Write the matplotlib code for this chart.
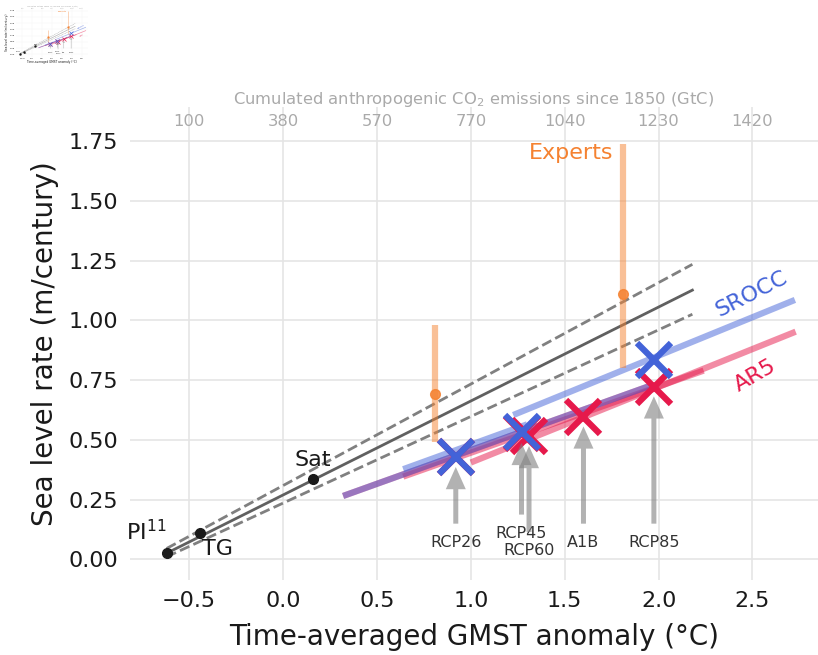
import matplotlib.pyplot as plt

W, H = 818, 655

# axis ticks; top axis shows cumulated emissions at the same positions
temp_ticks = [-0.5, 0.0, 0.5, 1.0, 1.5, 2.0, 2.5]
emission_labels = ["100", "380", "570", "770", "1040", "1230", "1420"]
rate_ticks = [0.0, 0.25, 0.5, 0.75, 1.0, 1.25, 1.5, 1.75]

# observations: pre-industrial, tide gauges, satellite
obs_names = ["PI$^{11}$", "TG", "Sat"]
obs_temp = [-0.62, -0.44, 0.16]
obs_rate = [0.025, 0.109, 0.335]

# linear fit through the observations (central + bounds)
fit_temp = [-0.62, 2.18]
fit_mid = [0.025, 1.127]
fit_high = [0.045, 1.235]
fit_low = [0.010, 1.026]

# expert elicitation
expert_temp = [0.81, 1.81]
expert_mid = [0.69, 1.11]
expert_low = [0.49, 0.80]
expert_high = [0.98, 1.74]

# scenarios (AR5)
scen_names = ["RCP26", "RCP45", "RCP60", "A1B", "RCP85"]
scen_temp = [0.92, 1.27, 1.31, 1.60, 1.975]
ar5_rate = [0.427, 0.528, 0.515, 0.597, 0.723]
label_temp = [0.92, 1.27, 1.31, 1.60, 1.975]
label_rate = [0.071, 0.109, 0.036, 0.071, 0.071]

# scenarios (SROCC)
srocc_temp = [0.92, 1.27, 1.975]
srocc_rate = [0.427, 0.534, 0.835]

# rate vs temperature segments
ar5_t0 = [0.32, 0.64, 1.00]
ar5_t1 = [1.95, 2.24, 2.73]
ar5_r0 = [0.265, 0.346, 0.405]
ar5_r1 = [0.725, 0.79, 0.953]
srocc_t0 = [0.32, 0.64, 1.226]
srocc_t1 = [1.95, 1.30, 2.726]
srocc_r0 = [0.265, 0.377, 0.604]
srocc_r1 = [0.725, 0.565, 1.086]

RED = "#e6194b"
BLUE = "#4363d8"
ORANGE = "#f58231"


def draw(ax, k):
    ax.set_xlim(-0.815, 2.849)
    ax.set_ylim(-0.087, 1.894)
    for s in ax.spines.values():
        s.set_visible(False)
    ax.grid(True, color="#e5e5e5", lw=1.2 * k)
    ax.set_axisbelow(True)
    ax.set_xticks(temp_ticks)
    ax.set_yticks(rate_ticks)
    ax.tick_params(length=0, labelsize=16 * k, colors="#1a1a1a")
    ax.tick_params(axis="y", pad=8.6 * k)
    ax.tick_params(axis="x", pad=8 * k)
    ax.set_xlabel("Time-averaged GMST anomaly (°C)", fontsize=20 * k,
                  color="#1a1a1a", labelpad=8.5 * k)
    ax.set_ylabel("Sea level rate (m/century)", fontsize=20 * k,
                  color="#1a1a1a", labelpad=7 * k)

    # observational fit
    ax.plot(fit_temp, fit_mid, color="#606060", lw=2 * k)
    ax.plot(fit_temp, fit_high, "--", color="#808080", lw=2 * k)
    ax.plot(fit_temp, fit_low, "--", color="#808080", lw=2 * k)
    ax.plot(obs_temp, obs_rate, "o", color="#1a1a1a", ms=7 * k)
    offs = [(-14.4, 15.5), (12, -11.5), (0, 14)]
    for name, t, r, o in zip(obs_names, obs_temp, obs_rate, offs):
        ax.annotate(name, (t, r), xytext=(o[0] * k, o[1] * k),
                    textcoords="offset points", ha="center", va="center",
                    fontsize=16 * k, color="#1a1a1a")

    # model segments
    for t0, t1, r0, r1 in zip(ar5_t0, ar5_t1, ar5_r0, ar5_r1):
        ax.plot([t0, t1], [r0, r1], color=RED, alpha=0.5, lw=4.5 * k,
                solid_capstyle="butt")
    for t0, t1, r0, r1 in zip(srocc_t0, srocc_t1, srocc_r0, srocc_r1):
        ax.plot([t0, t1], [r0, r1], color=BLUE, alpha=0.5, lw=4.5 * k,
                solid_capstyle="butt")

    # experts
    ax.vlines(expert_temp, expert_low, expert_high, color=ORANGE, alpha=0.5,
              lw=4.5 * k)
    ax.plot(expert_temp, expert_mid, "o", color=ORANGE, alpha=0.85, ms=7 * k)
    ax.annotate("Experts", (expert_temp[1], expert_high[1]),
                xytext=(-7 * k, -6.5 * k), textcoords="offset points",
                ha="right", va="center", fontsize=16 * k, color=ORANGE)

    # scenario markers
    ax.plot(scen_temp, ar5_rate, "x", color=RED, ms=24 * k, mew=4.5 * k)
    ax.plot(srocc_temp, srocc_rate, "x", color=BLUE, ms=24 * k, mew=4.5 * k)

    for name, tx, ty, t, r in zip(scen_names, label_temp, label_rate,
                                  scen_temp, ar5_rate):
        ax.annotate(name, xy=(t, r), xytext=(tx, ty), ha="center",
                    va="center", fontsize=11.5 * k, color="#333333",
                    arrowprops=dict(
                        arrowstyle="simple,head_length=%g,head_width=%g,"
                                   "tail_width=%g" % (16 * k, 14.4 * k, 3.6 * k),
                        mutation_scale=1, fc="gray", ec="none", alpha=0.6,
                        shrinkA=6 * k, shrinkB=7 * k))

    ax.text(2.497, 1.11, "SROCC", rotation=27, color=BLUE, fontsize=16 * k,
            ha="center", va="center", rotation_mode="anchor")
    ax.text(2.513, 0.768, "AR5", rotation=30, color=RED, fontsize=16 * k,
            ha="center", va="center", rotation_mode="anchor")

    # top axis: cumulated emissions
    ax2 = ax.twiny()
    ax2.set_xlim(ax.get_xlim())
    ax2.set_xticks(temp_ticks)
    ax2.set_xticklabels(emission_labels)
    for s in ax2.spines.values():
        s.set_visible(False)
    ax2.tick_params(length=0, labelsize=11.8 * k, colors="#aaaaaa",
                    pad=-16 * k)
    ax2.set_xlabel("Cumulated anthropogenic CO$_2$ emissions since 1850 (GtC)",
                   fontsize=11.8 * k, color="#aaaaaa", labelpad=2 * k)


fig = plt.figure(figsize=(W / 100, H / 100), dpi=100)

# main chart
ax = fig.add_axes([130 / W, 1 - 580 / H, 688 / W, 473 / H])
draw(ax, 1.0)

# small thumbnail copy in the top-left corner
s, ox, oy = 0.105, 2.5, -4.3
axt = fig.add_axes([(ox + 130 * s) / W, 1 - (oy + 580 * s) / H,
                    688 * s / W, 473 * s / H])
draw(axt, s)

fig.savefig("out.png", dpi=100, facecolor="white")
